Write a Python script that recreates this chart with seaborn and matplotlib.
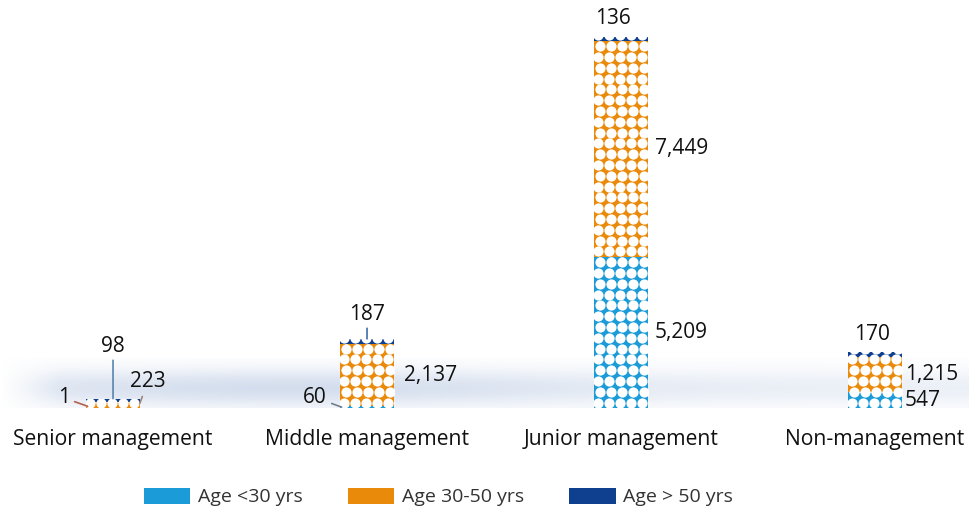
import numpy as np
import pandas as pd
import matplotlib
matplotlib.use("Agg")
import matplotlib.pyplot as plt
from matplotlib.patches import Patch
import seaborn as sns

# Headcount by management level and age band
categories = ["Senior management", "Middle management", "Junior management", "Non-management"]
age_under_30 = [1, 60, 5209, 547]
age_30_50 = [223, 2137, 7449, 1215]
age_over_50 = [98, 187, 136, 170]
series_names = ["Age <30 yrs", "Age 30-50 yrs", "Age > 50 yrs"]
value_labels = [["1", "60", "5,209", "547"],
                ["223", "2,137", "7,449", "1,215"],
                ["98", "187", "136", "170"]]

colors = ["#1b9bd8", "#ea8a0b", "#0f3f8f"]

sns.set_theme(style="white")
plt.rcParams["font.family"] = ["Open Sans", "DejaVu Sans"]

fig = plt.figure(figsize=(9.70, 5.16), dpi=100)
ax = fig.add_axes([0.0, 108 / 516, 1.0, 388 / 516])

df = pd.DataFrame({
    "level": categories * 3,
    "band": np.repeat(series_names, len(categories)),
    "value": age_under_30 + age_30_50 + age_over_50,
})

bottoms = np.zeros(len(categories))
series_values = [age_under_30, age_30_50, age_over_50]
for name, vals, col in zip(series_names, series_values, colors):
    sub = df[df["band"] == name]
    sns.barplot(data=sub, x="level", y="value", color=col, width=0.215,
                bottom=bottoms, ax=ax, linewidth=0, saturation=1, zorder=2,
                errorbar=None)
    bottoms = bottoms + np.array(vals)

totals = bottoms
XLIM = (-0.445, 3.374)
YLIM = (0, 12794 * 388 / 371)

# soft grey-blue haze along the base line
h, w = 60, 400
yy = np.linspace(0, 1, h)[:, None]
xx = np.linspace(0, 1, w)[None, :]
vert = np.exp(-((yy - 0.4) / 0.38) ** 2)
horiz = np.clip(xx / 0.06, 0, 1) * (0.45 + 0.55 * np.exp(-((xx - 0.3) / 0.3) ** 2))
img = np.zeros((h, w, 4))
img[..., 0] = 0.78
img[..., 1] = 0.83
img[..., 2] = 0.91
img[..., 3] = 0.75 * vert * horiz
ax.imshow(img, extent=(XLIM[0], XLIM[1], 0, 1700), origin="lower", aspect="auto",
          zorder=0, interpolation="bilinear")
ax.set_xlim(*XLIM)
ax.set_ylim(*YLIM)

# white dot texture inside every bar segment
to_px = ax.transData
inv = ax.transData.inverted()
step_x, step_y, diam, shift = 11.0, 10.8, 10.2, 2.5
for bar in list(ax.patches):
    x0, y0 = bar.get_x(), bar.get_y()
    bw, bh = bar.get_width(), bar.get_height()
    if bh <= 0:
        continue
    (px0, py0) = to_px.transform((x0, 0))
    (px1, _) = to_px.transform((x0 + bw, 0))
    (_, pyb) = to_px.transform((x0, y0))
    (_, pyt) = to_px.transform((x0, y0 + bh))
    ncol = int(round((px1 - px0) / step_x)) + 1
    rows = py0 + step_y / 2 + step_y * np.arange(int((pyt - py0) / step_y) + 2)
    keep = (rows > pyb - diam) & (rows < pyt + diam)
    idx = np.arange(len(rows))[keep]
    pts_px = []
    for r in idx:
        off = shift if r % 2 else 0.0
        for c in range(ncol):
            pts_px.append((px0 + step_x / 2 - 1.5 + off + step_x * c, rows[r]))
    if not pts_px:
        continue
    pts = inv.transform(np.array(pts_px))
    sc = ax.scatter(pts[:, 0], pts[:, 1], s=(diam * 0.72) ** 2, color="white",
                    linewidths=0, zorder=3)
    sc.set_clip_path(bar)

label_kw = dict(fontsize=15, color="#111111")

# side labels for the larger segments (series index, category index) -> x offset
side_offsets = {(1, 1): 0.146, (0, 2): 0.134, (1, 2): 0.134, (0, 3): 0.118, (1, 3): 0.118}
cum = np.zeros(len(categories))
for s, vals in enumerate(series_values):
    for i, v in enumerate(vals):
        if (s, i) in side_offsets:
            ax.text(i + side_offsets[(s, i)], cum[i] + v / 2, value_labels[s][i],
                    ha="left", va="center", **label_kw)
    cum = cum + np.array(vals)

# top labels for the oldest band
ax.annotate(value_labels[2][2], xy=(2, totals[2]), xytext=(-6, 6), textcoords="offset points",
            ha="center", va="bottom", **label_kw)
ax.annotate(value_labels[2][3], xy=(3, totals[3]), xytext=(-2, 5), textcoords="offset points",
            ha="center", va="bottom", **label_kw)
ax.annotate(value_labels[2][1], xy=(1, totals[1]), xytext=(0, 10), textcoords="offset points",
            ha="center", va="bottom",
            arrowprops=dict(arrowstyle="-", color="#3d6fa8", lw=1.2, shrinkA=0, shrinkB=0),
            **label_kw)

# leader-line labels for the small segments
ax.annotate(value_labels[0][0], xy=(-0.1, 60), xytext=(-17, 6), textcoords="offset points",
            ha="center", va="center",
            arrowprops=dict(arrowstyle="-", color="#b5604f", lw=1.2, shrinkA=1, shrinkB=0),
            **label_kw)
ax.annotate(value_labels[2][0], xy=(0, totals[0]), xytext=(0, 30), textcoords="offset points",
            ha="center", va="bottom",
            arrowprops=dict(arrowstyle="-", color="#5a84b0", lw=1.2, shrinkA=0, shrinkB=0),
            **label_kw)
ax.annotate(value_labels[1][0], xy=(0.105, 150), xytext=(6, 16), textcoords="offset points",
            ha="center", va="center",
            arrowprops=dict(arrowstyle="-", color="#9b8a7a", lw=1.2, shrinkA=1, shrinkB=0),
            **label_kw)
ax.annotate(value_labels[0][1], xy=(0.9, 30), xytext=(-19, 7), textcoords="offset points",
            ha="center", va="center",
            arrowprops=dict(arrowstyle="-", color="#6f8090", lw=1.2, shrinkA=1, shrinkB=0),
            **label_kw)

ax.set_xlabel("")
ax.set_ylabel("")
ax.set_yticks([])
ax.tick_params(axis="x", length=0, pad=15, labelsize=15.2, labelcolor="#111111")
for side in ax.spines.values():
    side.set_visible(False)
ax.set_facecolor("none")

handles = [Patch(facecolor=c, edgecolor="none") for c in colors]
fig.legend(handles, series_names, loc="center", bbox_to_anchor=(0.452, 0.037), ncol=3,
           frameon=False, fontsize=14, labelcolor="#333333", handlelength=2.4,
           handleheight=0.9, handletextpad=0.4, columnspacing=2.3)

fig.savefig("out.png", dpi=100)
